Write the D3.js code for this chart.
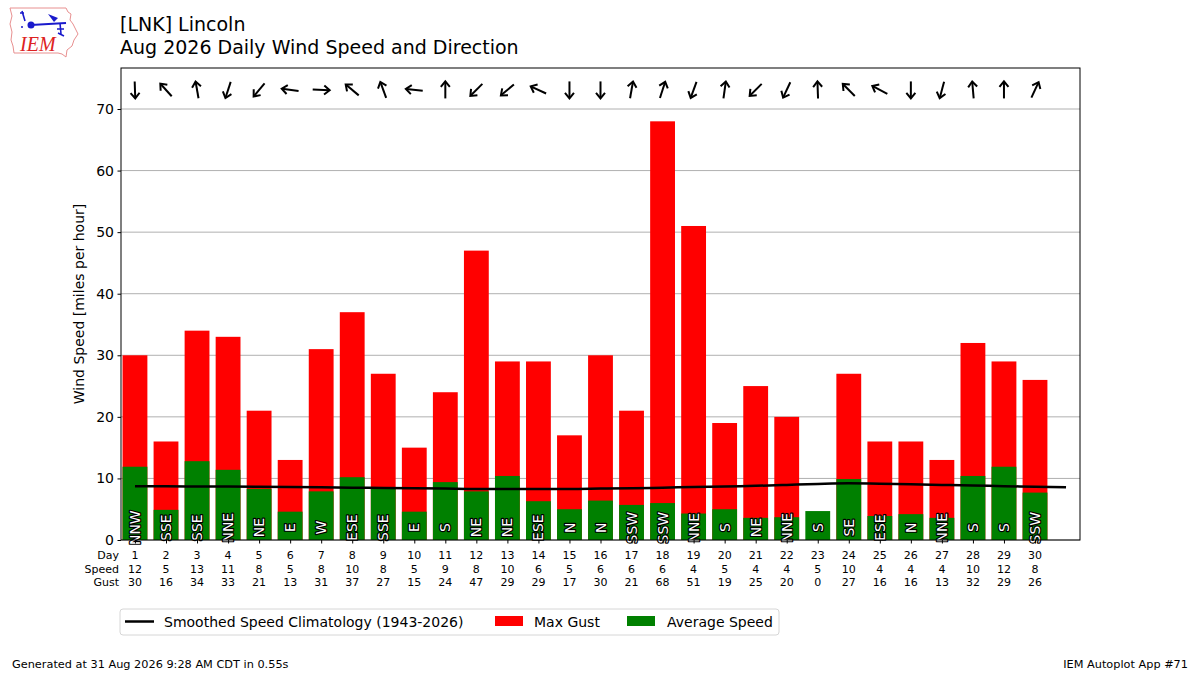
<!DOCTYPE html>
<html lang="en">
<head>
<meta charset="UTF-8">
<title>Daily Wind Speed and Direction</title>
<script src="https://d3js.org/d3.v7.min.js"></script>
<style>
  body { margin: 0; background: #fff; }
  text { font-family: "DejaVu Sans", sans-serif; }
</style>
</head>
<body>
<svg width="1200" height="675" id="mainsvg"></svg>
<script>
// values
const days = d3.range(1, 31);
const avgSpeed = [11.9, 4.9, 12.8, 11.4, 8.3, 4.6, 7.9, 10.2, 8.3, 4.6,
                  9.4, 7.9, 10.4, 6.3, 5.0, 6.4, 5.7, 6.0, 4.3, 5.0,
                  3.6, 3.7, 4.7, 9.9, 3.9, 4.2, 3.6, 10.4, 11.9, 7.7];
const maxGust = [30, 16, 34, 33, 21, 13, 31, 37, 27, 15, 24, 47, 29, 29, 17,
                 30, 21, 68, 51, 19, 25, 20, 0, 27, 16, 16, 13, 32, 29, 26];
const dirLabels = ['NNW', 'SSE', 'SSE', 'NNE', 'NE', 'E', 'W', 'ESE', 'SSE', 'E',
                   'S', 'NE', 'NE', 'ESE', 'N', 'N', 'SSW', 'SSW', 'NNE', 'S',
                   'NE', 'NNE', 'S', 'SE', 'ESE', 'N', 'NNE', 'S', 'S', 'SSW'];
// arrow heading (degrees clockwise from north, direction the arrow points)
const arrowDeg = [178, 318, 350, 198, 220, 278, 92, 310, 340, 276,
                  0, 225, 230, 295, 180, 180, 10, 18, 200, 8,
                  225, 205, 358, 315, 298, 180, 195, 355, 0, 25];
const climoDays = d3.range(1, 32);
const climoSpeed = [8.75, 8.72, 8.7, 8.68, 8.65, 8.6, 8.55, 8.5, 8.45, 8.4,
                    8.35, 8.3, 8.3, 8.3, 8.3, 8.35, 8.4, 8.5, 8.6, 8.7,
                    8.8, 8.95, 9.1, 9.2, 9.15, 9.05, 8.95, 8.85, 8.75, 8.65, 8.55];
const yTicks = [0, 10, 20, 30, 40, 50, 60, 70];

const svg = d3.select('#mainsvg');
const margin = { top: 68, right: 120, bottom: 135, left: 121 };
const innerWidth = 1200 - margin.left - margin.right;
const innerHeight = 675 - margin.top - margin.bottom;

const xScale = d3.scaleLinear().domain([0.55, 31.45]).range([0, innerWidth]);
const yScale = d3.scaleLinear().domain([0, 76.66]).range([innerHeight, 0]);
const barW = xScale(0.8) - xScale(0);

const g = svg.append('g').attr('transform', `translate(${margin.left},${margin.top})`);

// grid
const yAxis = d3.axisLeft(yScale).tickValues(yTicks).tickSize(3.5).tickPadding(3.5);
g.append('g').selectAll('line').data(yTicks).enter().append('line')
  .attr('x1', 0).attr('x2', innerWidth)
  .attr('y1', d => yScale(d)).attr('y2', d => yScale(d))
  .attr('stroke', '#b0b0b0').attr('stroke-width', 1);

// gust bars
g.selectAll('.gust').data(days).enter().append('rect')
  .attr('class', 'gust')
  .attr('x', d => xScale(d) - barW / 2)
  .attr('width', barW)
  .attr('y', (d, i) => yScale(maxGust[i]))
  .attr('height', (d, i) => yScale(0) - yScale(maxGust[i]))
  .attr('fill', '#ff0000');

// average speed bars
g.selectAll('.avg').data(days).enter().append('rect')
  .attr('class', 'avg')
  .attr('x', d => xScale(d) - barW / 2)
  .attr('width', barW)
  .attr('y', (d, i) => yScale(avgSpeed[i]))
  .attr('height', (d, i) => yScale(0) - yScale(avgSpeed[i]))
  .attr('fill', '#008000');

// climatology
const line = d3.line().x(d => xScale(d[0])).y(d => yScale(d[1])).curve(d3.curveMonotoneX);
g.append('path')
  .datum(climoDays.map((d, i) => [d, climoSpeed[i]]))
  .attr('d', line)
  .attr('fill', 'none').attr('stroke', '#000').attr('stroke-width', 2.5);

// direction labels
g.selectAll('.dirlab').data(days).enter().append('text')
  .attr('transform', d => `translate(${xScale(d)},${yScale(2)}) rotate(-90)`)
  .attr('text-anchor', 'middle').attr('dy', '0.36em')
  .attr('font-size', 14)
  .attr('fill', '#fff').attr('stroke', '#000').attr('stroke-width', 2.4)
  .attr('paint-order', 'stroke').attr('stroke-linejoin', 'round')
  .text((d, i) => dirLabels[i]);

// arrows
const arrows = g.selectAll('.arrow').data(days).enter().append('g')
  .attr('transform', (d, i) => `translate(${xScale(d)},${yScale(73.1)}) rotate(${arrowDeg[i]})`);
arrows.append('line').attr('x1', 0).attr('y1', 8.5).attr('x2', 0).attr('y2', -8)
  .attr('stroke', '#000').attr('stroke-width', 2);
arrows.append('path').attr('d', 'M-4.5,-3 L0,-8.5 L4.5,-3')
  .attr('fill', 'none').attr('stroke', '#000').attr('stroke-width', 2)
  .attr('stroke-linejoin', 'miter');

// axes
const yAxisG = g.append('g').call(yAxis);
yAxisG.select('.domain').remove();
yAxisG.selectAll('text').attr('font-size', 14).attr('fill', '#000')
  .style('font-family', '"DejaVu Sans", sans-serif');

const xAxis = d3.axisBottom(xScale).tickValues(days).tickSize(3.5).tickFormat('');
const xAxisG = g.append('g').attr('transform', `translate(0,${innerHeight})`).call(xAxis);
xAxisG.select('.domain').remove();

const rows = [['Day', days], ['Speed', avgSpeed.map(v => Math.round(v))], ['Gust', maxGust]];
rows.forEach((r, k) => {
  const yy = innerHeight + 19 + k * 13.5;
  g.append('text').attr('x', -2).attr('y', yy).attr('text-anchor', 'end')
    .attr('font-size', 11).text(r[0]);
  g.selectAll('.row' + k).data(days).enter().append('text')
    .attr('x', d => xScale(d)).attr('y', yy)
    .attr('text-anchor', 'middle').attr('font-size', 11)
    .text((d, i) => r[1][i]);
});

g.append('rect').attr('width', innerWidth).attr('height', innerHeight)
  .attr('fill', 'none').attr('stroke', '#000').attr('stroke-width', 1);

g.append('text')
  .attr('transform', `translate(-37,${innerHeight / 2}) rotate(-90)`)
  .attr('text-anchor', 'middle').attr('font-size', 14)
  .text('Wind Speed [miles per hour]');

// titles
svg.append('text').attr('x', 120).attr('y', 31).attr('font-size', 19).text('[LNK] Lincoln');
svg.append('text').attr('x', 120).attr('y', 54).attr('font-size', 19)
  .text('Aug 2026 Daily Wind Speed and Direction');

// legend
const lg = svg.append('g').attr('transform', 'translate(120,609)');
lg.append('rect').attr('width', 659).attr('height', 26).attr('rx', 3)
  .attr('fill', '#fff').attr('stroke', '#d6d6d6');
lg.append('line').attr('x1', 5).attr('x2', 34).attr('y1', 12.5).attr('y2', 12.5)
  .attr('stroke', '#000').attr('stroke-width', 2.5);
lg.append('text').attr('x', 44).attr('y', 17.5).attr('font-size', 14)
  .text('Smoothed Speed Climatology (1943-2026)');
lg.append('rect').attr('x', 375).attr('y', 7).attr('width', 28).attr('height', 10).attr('fill', '#ff0000');
lg.append('text').attr('x', 414).attr('y', 17.5).attr('font-size', 14).text('Max Gust');
lg.append('rect').attr('x', 507).attr('y', 7).attr('width', 28).attr('height', 10).attr('fill', '#008000');
lg.append('text').attr('x', 547).attr('y', 17.5).attr('font-size', 14).text('Average Speed');

// footer
svg.append('text').attr('x', 12).attr('y', 668).attr('font-size', 11.3)
  .text('Generated at 31 Aug 2026 9:28 AM CDT in 0.55s');
svg.append('text').attr('x', 1188).attr('y', 668).attr('font-size', 11.3)
  .attr('text-anchor', 'end').text('IEM Autoplot App #71');

// logo
const logo = svg.append('g');
logo.append('path')
  .attr('d', 'M10,8 L66,8 L68,12 L71,14 L70,20 L73,24 L78,34 L74,40 L72,46 L67,50 L66,57 L62,54 L58,53 L14,53 L13,46 L11,40 L12,32 L10,24 L12,16 Z')
  .attr('fill', '#fff').attr('stroke', '#e89090').attr('stroke-width', 1);
logo.append('line').attr('x1', 31).attr('y1', 25).attr('x2', 66).attr('y2', 23)
  .attr('stroke', '#1a1acc').attr('stroke-width', 2.2);
logo.append('circle').attr('cx', 31).attr('cy', 25).attr('r', 3.5).attr('fill', '#1a1acc');
logo.append('path').attr('d', 'M48,14 L58,18 L54,22 Z').attr('fill', '#1a1acc');
logo.append('path').attr('d', 'M60,23 L61,34 M57,29 L64,29 M58,33 L64,36 M22,11 L25,21 M20,13 L24,13 M21,27 L23,27')
  .attr('stroke', '#1a1acc').attr('stroke-width', 1.6).attr('fill', 'none');
logo.append('text').attr('x', 20).attr('y', 51).attr('font-size', 20)
  .attr('font-style', 'italic').attr('fill', '#dd2222')
  .style('font-family', '"Liberation Serif", serif').text('IEM');
</script>
</body>
</html>
